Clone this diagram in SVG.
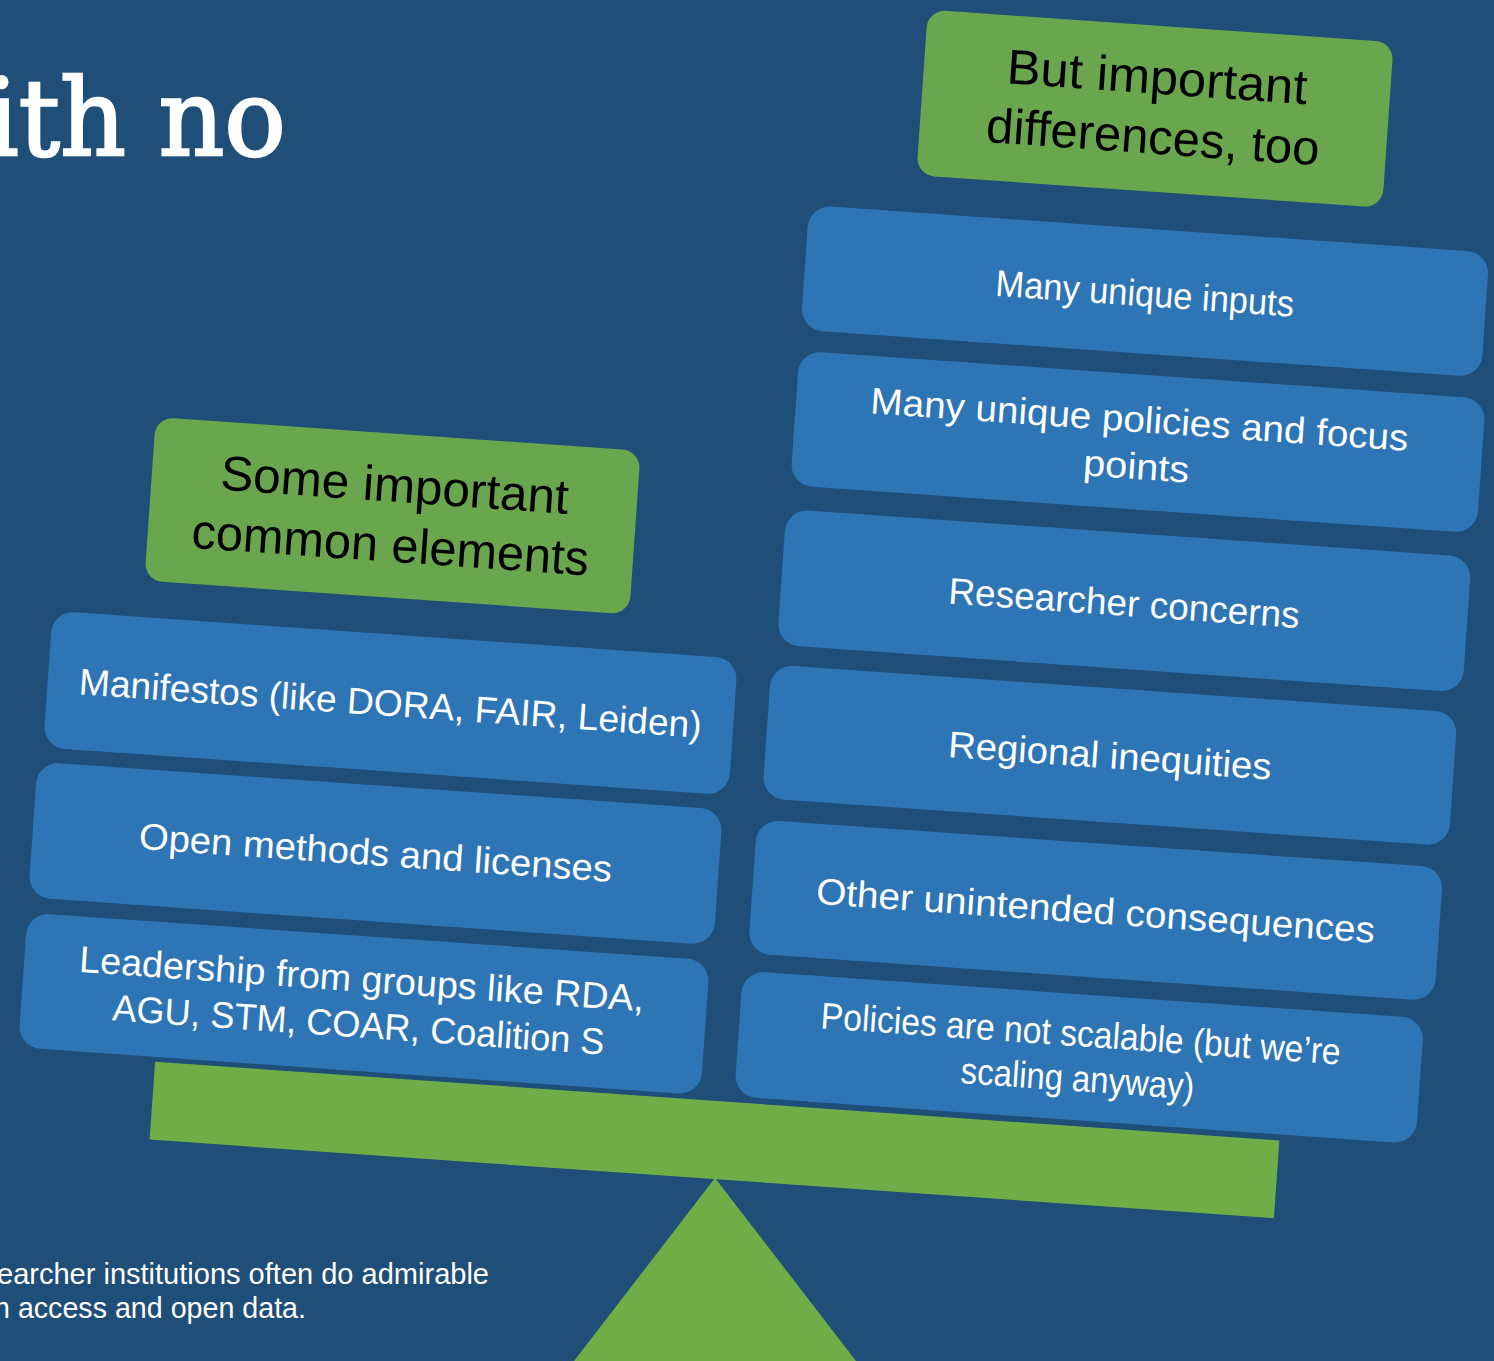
<svg xmlns="http://www.w3.org/2000/svg" width="1494" height="1361" viewBox="0 0 1494 1361">
<style>
.box{fill:#2E75B6}
.hdr{fill:#69A64E}
.green{fill:#70AD47}
.wt{fill:#FFFFFF;font-family:"Liberation Sans",Arial,sans-serif;text-anchor:middle;font-size:37px}
.bk{fill:#000000;font-family:"Liberation Sans",Arial,sans-serif;text-anchor:middle;font-size:49px}
.note{fill:#FFFFFF;font-family:"Liberation Sans",Arial,sans-serif;font-size:29px}
</style>
<rect width="1494" height="1361" fill="#1F4E79"/>
<text id="title" x="-14" y="155" fill="#FFFFFF" stroke="#FFFFFF" stroke-width="2.5" font-family="'DejaVu Serif',serif" font-size="106" textLength="300" lengthAdjust="spacingAndGlyphs">ith no</text>
<g id="note">
<text class="note" x="-3" y="1284" textLength="492" lengthAdjust="spacingAndGlyphs">earcher institutions often do admirable</text>
<text class="note" x="-6" y="1318" textLength="312" lengthAdjust="spacingAndGlyphs">n access and open data.</text>
</g>
<g id="seesaw">
<polygon class="green" points="715,1178 574,1361 856,1361"/>
<rect class="green" x="-563.5" y="-39" width="1127" height="78" transform="translate(714.5,1140) rotate(4)"/>
</g>
<g id="connectors"></g>
<g id="hdr-left" transform="translate(392.5,515.7) rotate(4)">
<rect class="hdr" x="-243" y="-82" width="486" height="164" rx="18"/>
<text class="bk" x="0" y="-14" textLength="349" lengthAdjust="spacingAndGlyphs">Some important</text>
<text class="bk" x="0" y="46" textLength="398" lengthAdjust="spacingAndGlyphs">common elements</text>
</g>
<g id="hdr-right" transform="translate(1155,108.7) rotate(4)">
<rect class="hdr" x="-233.5" y="-83" width="467" height="166" rx="18"/>
<text class="bk" x="0" y="-15" textLength="301" lengthAdjust="spacingAndGlyphs">But important</text>
<text class="bk" x="0" y="45" textLength="334" lengthAdjust="spacingAndGlyphs">differences, too</text>
</g>
<g id="l1" transform="translate(390.5,703) rotate(4)">
<rect class="box" x="-343.5" y="-68.5" width="687" height="137" rx="22"/>
<text class="wt" x="0" y="13" textLength="624" lengthAdjust="spacingAndGlyphs">Manifestos (like DORA, FAIR, Leiden)</text>
</g>
<g id="l2" transform="translate(375.5,853.4) rotate(4)">
<rect class="box" x="-343.5" y="-68" width="687" height="136" rx="22"/>
<text class="wt" x="0" y="12" textLength="474" lengthAdjust="spacingAndGlyphs">Open methods and licenses</text>
</g>
<g id="l3" transform="translate(364,1003.8) rotate(4)">
<rect class="box" x="-342" y="-67.5" width="684" height="135" rx="22"/>
<text class="wt" x="-4" y="-12" textLength="566" lengthAdjust="spacingAndGlyphs">Leadership from groups like RDA,</text>
<text class="wt" x="-4" y="34" textLength="493" lengthAdjust="spacingAndGlyphs">AGU, STM, COAR, Coalition S</text>
</g>
<g id="r1" transform="translate(1145,291.2) rotate(4)">
<rect class="box" x="-341" y="-62.5" width="682" height="125" rx="22"/>
<text class="wt" x="0" y="15" font-size="35" textLength="299" lengthAdjust="spacingAndGlyphs">Many unique inputs</text>
</g>
<g id="r2" transform="translate(1138,442) rotate(4)">
<rect class="box" x="-344" y="-67.5" width="688" height="135" rx="22"/>
<text class="wt" x="0" y="-10" textLength="539" lengthAdjust="spacingAndGlyphs">Many unique policies and focus</text>
<text class="wt" x="0" y="37" textLength="106" lengthAdjust="spacingAndGlyphs">points</text>
</g>
<g id="r3" transform="translate(1124.3,600.8) rotate(4)">
<rect class="box" x="-343.5" y="-68" width="687" height="136" rx="22"/>
<text class="wt" x="0" y="15" textLength="352" lengthAdjust="spacingAndGlyphs">Researcher concerns</text>
</g>
<g id="r4" transform="translate(1109.9,755.3) rotate(4)">
<rect class="box" x="-344" y="-67" width="688" height="134" rx="22"/>
<text class="wt" x="0" y="13" textLength="324" lengthAdjust="spacingAndGlyphs">Regional inequities</text>
</g>
<g id="r5" transform="translate(1095.7,910.4) rotate(4)">
<rect class="box" x="-344" y="-67" width="688" height="134" rx="22"/>
<text class="wt" x="0" y="13" textLength="560" lengthAdjust="spacingAndGlyphs">Other unintended consequences</text>
</g>
<g id="r6" transform="translate(1079.2,1057.3) rotate(4)">
<rect class="box" x="-341.5" y="-63" width="683" height="126" rx="22"/>
<text class="wt" x="0" y="-11" font-size="34" textLength="521" lengthAdjust="spacingAndGlyphs">Policies are not scalable (but we’re</text>
<text class="wt" x="0" y="34" font-size="34" textLength="234" lengthAdjust="spacingAndGlyphs">scaling anyway)</text>
</g>
</svg>
